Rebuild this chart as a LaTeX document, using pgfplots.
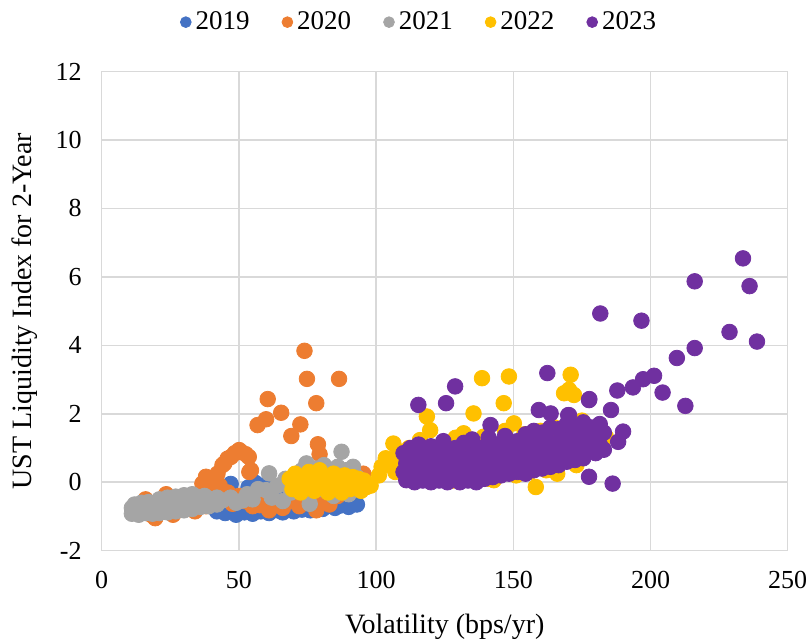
\documentclass[border=0pt]{standalone}
\usepackage{pgfplots}
\pgfplotsset{compat=1.18}
\usepackage{fontspec}
\setmainfont{Liberation Serif}
\definecolor{c19}{HTML}{4472C4}
\definecolor{c20}{HTML}{ED7D31}
\definecolor{c21}{HTML}{A5A5A5}
\definecolor{c22}{HTML}{FFC000}
\definecolor{c23}{HTML}{7030A0}
\definecolor{gridgray}{HTML}{D9D9D9}
\begin{document}
\begin{tikzpicture}
\begin{axis}[
  scale only axis, width=343pt, height=239.6pt,
  xmin=0, xmax=250, ymin=-2, ymax=12,
  xtick={0,50,...,250}, ytick={-2,0,...,12},
  grid=major, major grid style={draw=gridgray, line width=0.75pt},
  axis line style={draw=gridgray, line width=0.75pt},
  major tick length=0pt,
  /pgf/number format/assume math mode=true,
  ticklabel style={font=\fontsize{13}{15}\selectfont},
  xticklabel style={yshift=-6.5pt},
  yticklabel style={xshift=-6.5pt},
  xlabel={Volatility (bps/yr)},
  ylabel={UST Liquidity Index for 2-Year},
  label style={font=\fontsize{14}{16}\selectfont},
  x label style={at={(axis description cs:0.5,-0.159)}, anchor=center},
  y label style={at={(axis description cs:-0.113,0.5)}, anchor=center},
  legend columns=5,
  legend style={draw=none, fill=none, at={(axis description cs:0.464,1.103)}, anchor=center,
    font=\fontsize{13.5}{15}\selectfont,
    /tikz/every even column/.append style={column sep=14pt}},
  legend image code/.code={\fill[#1] (0pt,0pt) circle (2.7pt);},
  every axis plot/.append style={only marks, mark=*, mark size=3.9pt},
]
% 2019
\addplot[color=c19, mark options={draw=none, fill=c19}] coordinates {
(42,-0.85) (43.5,-0.72) (45,-0.9) (46,-0.6) (47.5,-0.35) (48,-0.82) (49,-0.95) (50.5,-0.7) (51,-0.5) (52,-0.88)
(53.5,-0.15) (54,-0.78) (55,-0.92) (56.5,-0.62) (57,-0.4) (58,-0.85) (59.5,-0.1) (60,-0.75) (61,-0.9) (62.5,-0.55)
(63,-0.3) (64,-0.82) (65.5,-0.7) (66,-0.88) (67,-0.45) (68.5,-0.78) (69,-0.6) (70,-0.85) (71.5,-0.2) (72,-0.72)
(73,-0.8) (74.5,-0.5) (75,-0.68) (76,-0.82) (77.5,-0.35) (78,-0.75) (79,-0.6) (80.5,-0.78) (81,-0.45) (82,-0.7)
(83.5,-0.25) (84,-0.65) (85,-0.75) (86.5,-0.55) (87,-0.68) (88,-0.4) (89.5,-0.62) (90,-0.72) (91,-0.5) (92,-0.58)
(93,-0.65) (47,-0.05) (56,-0.02) (65,-0.1) (75,-0.12) (85,-0.15)
};
\addlegendentry{2019}
% 2020
\addplot[color=c20, mark options={draw=none, fill=c20}] coordinates {
(13,-0.85) (15,-0.7) (16,-0.5) (18,-0.95) (19.5,-1.05) (21,-0.6) (22,-0.85) (23.5,-0.35) (25,-0.75) (26,-0.95)
(27.5,-0.55) (29,-0.8) (30,-0.4) (31.5,-0.7) (33,-0.5) (34,-0.85) (35.5,-0.6) (37,-0.3) (38,-0.7) (39.5,-0.45) (40,-0.2)
(36.7,-0.04) (38,0.16) (40,0.05) (42.2,0.25) (44,0.5) (44.7,0.55) (45.9,0.69) (47.1,0.74) (48.5,0.85) (50.1,0.94)
(50.8,0.89) (52.5,0.82) (53.6,0.74) (54.4,0.35) (53.8,0.3) (41,-0.15) (43,-0.1)
(45,-0.5) (46,-0.3) (47.7,-0.63) (50,-0.4) (52,-0.55) (55,-0.7) (57.5,-0.67) (59,-0.45) (61,-0.82) (63,-0.6)
(66,-0.75) (69,-0.55) (72,-0.7) (75,-0.6) (78.2,-0.82) (80,-0.5) (83,-0.65) (86,-0.4) (89,-0.3) (92,0.0)
(94.7,0.2) (95.3,0.25) (88,0.15)
(73.9,3.84) (74.8,3.02) (86.5,3.02) (60.5,2.43) (78.2,2.31) (65.4,2.03) (59.9,1.84) (56.8,1.67) (72.4,1.69)
(69.1,1.35) (78.8,1.11) (79.4,0.82)
};
\addlegendentry{2020}
% 2021
\addplot[color=c21, mark options={draw=none, fill=c21}] coordinates {
(11,-0.92) (11,-0.75) (12,-0.85) (12,-0.65) (13.5,-0.95) (13.5,-0.72) (14.5,-0.8) (14.5,-0.6) (16,-0.9) (16,-0.68)
(17,-0.78) (17,-0.58) (18.5,-0.92) (18.5,-0.7) (19.5,-0.82) (19.5,-0.6) (21,-0.9) (21,-0.65) (21,-0.5)
(22.5,-0.8) (22.5,-0.55) (24,-0.88) (24,-0.62) (24,-0.45) (25.5,-0.75) (25.5,-0.5) (27,-0.85) (27,-0.6) (27,-0.42)
(28.5,-0.7) (28.5,-0.5) (30,-0.82) (30,-0.55) (30,-0.38) (31.5,-0.68) (31.5,-0.45) (33,-0.78) (33,-0.52) (33,-0.35)
(34.5,-0.62) (34.5,-0.42) (36,-0.72) (36,-0.5) (37.5,-0.6) (37.5,-0.4) (39,-0.7) (39,-0.48) (40.5,-0.58)
(42,-0.65) (42,-0.45) (44,-0.53)
(47,-0.45) (49,-0.6) (51.4,-0.53) (53,-0.35) (55,-0.5) (57,-0.2) (59.9,-0.23) (61,0.26) (62,-0.45) (64,-0.1)
(66,-0.55) (67,0.1) (69,-0.3) (70.5,0.2) (72,-0.15) (73,0.35) (74.6,0.55) (75.8,-0.63) (77,0.05) (78,0.4)
(80,-0.2) (81,0.5) (83,0.25) (84.5,-0.4) (86,0.45) (87.4,0.89) (88,0.1) (89,0.35) (91.6,0.45) (93,0.15) (90,-0.35)
};
\addlegendentry{2021}
% 2022
\addplot[color=c22, mark options={draw=none, fill=c22}] coordinates {
(68.5,0.1) (69.5,-0.2) (70.5,0.25) (71.5,-0.05) (72.5,-0.3) (73.5,0.15) (74.5,-0.15) (75.5,0.3) (76.5,0.0)
(77.5,-0.25) (78.5,0.2) (79.4,0.35) (80.5,-0.1) (81.5,0.15) (82.5,-0.3) (83.5,0.05) (84.5,0.25) (85.5,-0.15)
(86.5,0.1) (87.5,-0.3) (88.5,0.2) (89.5,0.0) (90.5,-0.2) (91.5,0.15) (92.5,-0.1) (93.5,0.1) (94.5,-0.25)
(95.5,0.05) (96.5,-0.14) (98,-0.1)
(101,0.2) (102,0.45) (103.5,0.7) (105,0.65) (106.3,1.13) (107,0.3) (108,0.9) (109.5,0.5) (111,0.25) (112,1.0)
(113,0.6) (114,0.1) (115,0.8) (116,1.23) (117,0.4) (118.5,1.92) (119.7,1.52) (120,0.9) (121,0.1) (122.5,0.6)
(124,1.1) (125,0.3) (126.5,0.8) (128,0.05) (129,1.3) (130,0.5) (131.9,1.43) (133,0.2) (134,0.9) (135.5,2.01)
(136,0.4) (137,1.2) (138.6,3.04) (139.2,1.33) (140,0.6) (141,0.1) (142.9,0.06) (143,1.0) (144,0.35) (145.3,0.26)
(146.5,2.31) (147,1.5) (148.4,3.09) (149,0.7) (150.2,1.72) (151,0.2) (152,1.1) (153,0.4) (154,1.4) (155,0.8)
(156,0.3) (157,1.2) (158.2,-0.14) (159,0.6) (160,1.5) (161,0.9) (162,0.35) (163,1.3) (164,0.7) (165,1.6)
(166,0.25) (167,1.0) (168.5,2.6) (169,1.4) (170.3,2.7) (170.9,3.14) (172.1,2.55) (171,0.8) (172,1.7) (173,0.5)
(174,1.2) (175,1.8) (176,0.9) (178,1.5) (180,1.2) (183.7,1.33)
};
\addlegendentry{2022}
% 2023
\addplot[color=c23, mark options={draw=none, fill=c23}] coordinates {
(110,0.3) (110,0.85) (111,0.06) (111,0.55) (112.5,0.2) (112.5,0.7) (112.5,1.0) (114,0.0) (114,0.45)
(115.5,0.3) (115.5,0.75) (115.5,1.1) (117,0.05) (117,0.5) (118.5,0.25) (118.5,0.8) (120,0.0) (120,0.45) (120,1.05)
(121.5,0.2) (121.5,0.65) (123,0.05) (123,0.4) (123,0.9) (124.5,0.25) (124.5,0.7) (124.5,1.2) (126,0.0) (126,0.5)
(127.5,0.3) (127.5,0.85) (129,0.1) (129,0.6) (129,1.0) (130.5,0.0) (130.5,0.4) (130.5,0.75) (132,0.2) (132,0.65)
(132,1.15) (133.5,0.05) (133.5,0.5) (135,0.3) (135,0.8) (135,1.25) (136.5,0.0) (136.5,0.45) (138,0.2) (138,0.7)
(138,1.0) (139.5,0.1) (139.5,0.55) (141,0.35) (141,0.9) (141,1.3) (142.5,0.15) (142.5,0.6) (144,0.4) (144,0.8)
(144,1.1) (145.5,0.2) (145.5,0.65) (147,0.45) (147,0.95) (147,1.35) (148.5,0.25) (148.5,0.7) (150,0.5) (150,1.0)
(151.5,0.3) (151.5,0.75) (151.5,1.2) (153,0.45) (153,0.95) (154.5,0.25) (154.5,0.7) (154.5,1.4) (156,0.5) (156,1.05)
(157.5,0.35) (157.5,0.8) (157.5,1.5) (159,0.55) (159,1.1) (160.5,0.4) (160.5,0.85) (160.5,1.45) (162,0.6) (162,1.2)
(163.5,0.45) (163.5,0.9) (163.5,1.6) (165,0.7) (165,1.15) (166.5,0.5) (166.5,1.0) (166.5,1.55) (168,0.75) (168,1.25)
(169.5,0.6) (169.5,1.05) (169.5,1.7) (171,0.8) (171,1.3) (172.5,0.65) (172.5,1.1) (172.5,1.6) (174,0.85) (174,1.35)
(175.5,0.7) (175.5,1.15) (175.5,1.75) (177,0.9) (177,1.4) (178.5,1.0) (178.5,1.6) (180,0.85) (180,1.3) (181.5,1.1)
(181.5,1.7) (183,0.95) (183,1.45)
(128.8,2.80) (115.4,2.26) (125.5,2.31) (141.7,1.67) (162.4,3.19) (177.6,2.4) (185.6,2.11) (159.3,2.11) (170.3,1.96)
(163.6,2.01) (177.6,0.16) (186.2,-0.04)
(233.7,6.54) (216.1,5.87) (236.1,5.73) (181.7,4.93) (196.7,4.72) (228.8,4.39) (238.8,4.11) (216.1,3.92)
(209.6,3.63) (201.3,3.11) (197.3,3.01) (193.6,2.77) (187.9,2.68) (204.4,2.62) (212.7,2.23) (177.7,2.43)
(190.0,1.48) (188.2,1.18) (170.0,1.96)
};
\addlegendentry{2023}
\end{axis}
\pgfresetboundingbox
\path ([shift={(-50.85pt,-45.1pt)}]current axis.south west) rectangle ([shift={(11.65pt,35.75pt)}]current axis.north east);
\end{tikzpicture}
\end{document}
